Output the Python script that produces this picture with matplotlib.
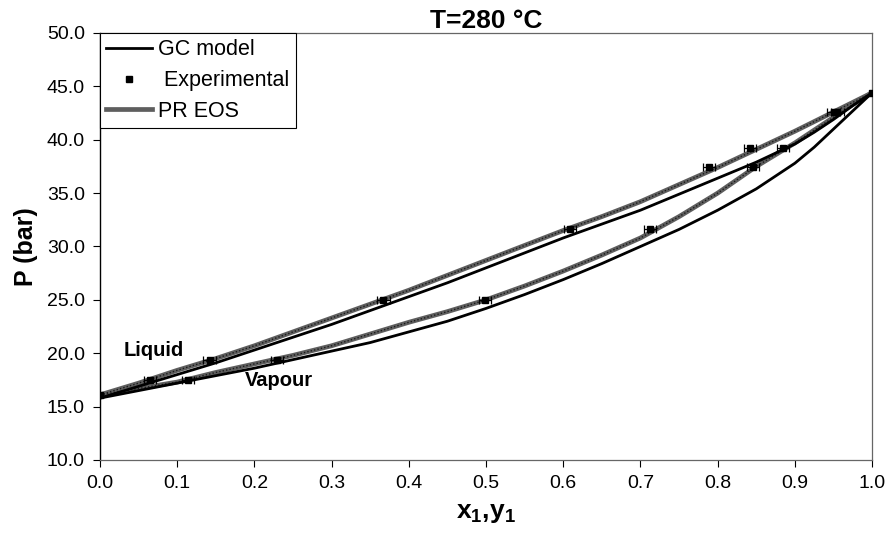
import numpy as np
import matplotlib
matplotlib.use("Agg")
import matplotlib.pyplot as plt
from matplotlib.lines import Line2D

plt.rcParams["font.family"] = ["Liberation Sans", "DejaVu Sans"]
plt.rcParams["mathtext.fontset"] = "custom"
plt.rcParams["mathtext.bf"] = "Liberation Sans:bold"
plt.rcParams["mathtext.rm"] = "Liberation Sans"

# model curves
x_model = [0.0, 0.05, 0.1, 0.15, 0.2, 0.25, 0.3, 0.35, 0.4, 0.45, 0.5,
           0.55, 0.6, 0.65, 0.7, 0.75, 0.8, 0.85, 0.9, 0.925, 0.95, 0.975, 1.0]
pr_liq = [16.1, 17.2, 18.4, 19.5, 20.7, 22.0, 23.3, 24.6, 25.9, 27.3, 28.7,
          30.1, 31.5, 32.8, 34.2, 35.8, 37.4, 39.1, 40.8, 41.7, 42.6, 43.5, 44.4]
gc_liq = [15.8, 16.9, 18.0, 19.1, 20.3, 21.5, 22.7, 24.0, 25.3, 26.6, 28.0,
          29.4, 30.8, 32.1, 33.4, 34.9, 36.4, 37.9, 39.6, 40.7, 41.9, 43.2, 44.4]
pr_vap = [16.1, 16.7, 17.3, 18.2, 19.0, 19.8, 20.7, 21.8, 22.9, 23.9, 25.0,
          26.3, 27.7, 29.2, 30.8, 32.8, 35.0, 37.5, 39.7, 40.9, 42.1, 43.3, 44.4]
gc_vap = [15.8, 16.5, 17.2, 17.9, 18.6, 19.4, 20.2, 21.0, 22.0, 23.0, 24.2,
          25.5, 26.9, 28.4, 30.0, 31.6, 33.4, 35.4, 37.8, 39.3, 41.0, 42.7, 44.4]

# experimental points
x_exp = [0.065, 0.142, 0.367, 0.609, 0.789, 0.842, 0.950]
y_exp = [0.114, 0.229, 0.499, 0.712, 0.846, 0.885, 0.955]
p_exp = [17.5, 19.4, 25.0, 31.6, 37.4, 39.2, 42.6]
x_pure = [0.0, 1.0]
p_pure = [16.1, 44.4]

x_ticks = [0.0, 0.1, 0.2, 0.3, 0.4, 0.5, 0.6, 0.7, 0.8, 0.9, 1.0]
y_ticks = [10, 15, 20, 25, 30, 35, 40, 45, 50]

fig = plt.figure(figsize=(8.89, 5.38), dpi=100)
ax = fig.add_axes([0.1125, 0.145, 0.8685, 0.7937])

pr_col = "#5e5e5e"
for p in (pr_liq, pr_vap):
    ax.plot(x_model, p, color=pr_col, lw=3.4, solid_capstyle="round", zorder=2)
    ax.plot(x_model, p, color="#1a1a1a", lw=1.0, ls=(0, (1, 1.5)), zorder=2.1)
for p in (gc_liq, gc_vap):
    ax.plot(x_model, p, color="black", lw=2.0, zorder=3)

ax.errorbar(x_exp, p_exp, xerr=0.008, fmt="s", color="black", ms=4,
            elinewidth=0.9, capsize=3, capthick=0.9, zorder=4)
ax.errorbar(y_exp, p_exp, xerr=0.008, fmt="s", color="black", ms=4,
            elinewidth=0.9, capsize=3, capthick=0.9, zorder=4)
ax.plot(x_pure, p_pure, "s", color="black", ms=5, zorder=4)

ax.text(0.03, 20.3, "Liquid", fontsize=14.5, fontweight="bold", va="center")
ax.text(0.188, 17.4, "Vapour", fontsize=14.5, fontweight="bold", va="center")

ax.set_xlim(0, 1)
ax.set_ylim(10, 50)
ax.set_xticks(x_ticks)
ax.set_xticklabels([f"{v:.1f}" for v in x_ticks])
ax.set_yticks(y_ticks)
ax.set_yticklabels([f"{v:.1f}" for v in y_ticks])
ax.tick_params(labelsize=14, length=5, width=0.8, direction="out", pad=6)

for s in ("top", "right", "bottom"):
    ax.spines[s].set_color("#666666")
    ax.spines[s].set_linestyle((0, (3, 1)))
    ax.spines[s].set_linewidth(0.9)
ax.spines["left"].set_color("black")
ax.spines["left"].set_linewidth(1.0)

ax.set_title("T=280 °C", fontsize=19, fontweight="bold", pad=2)
ax.set_ylabel("P (bar)", fontsize=18, fontweight="bold", labelpad=6)
ax.set_xlabel(r"$\mathbf{x_1{,}y_1}$", fontsize=19, labelpad=6)

handles = [Line2D([], [], color="black", lw=2.0),
           Line2D([], [], ls="none", marker="s", color="black", ms=4),
           Line2D([], [], color=pr_col, lw=3.4)]
labels = ["GC model", " Experimental", "PR EOS"]
leg = ax.legend(handles, labels, loc="upper left", fontsize=15.5, frameon=True,
                fancybox=False, edgecolor="black", framealpha=1,
                borderaxespad=0, handlelength=2.1, handletextpad=0.3,
                labelspacing=0.45, borderpad=0.3)
leg.get_frame().set_linewidth(0.8)

fig.savefig("out.png", dpi=100)
